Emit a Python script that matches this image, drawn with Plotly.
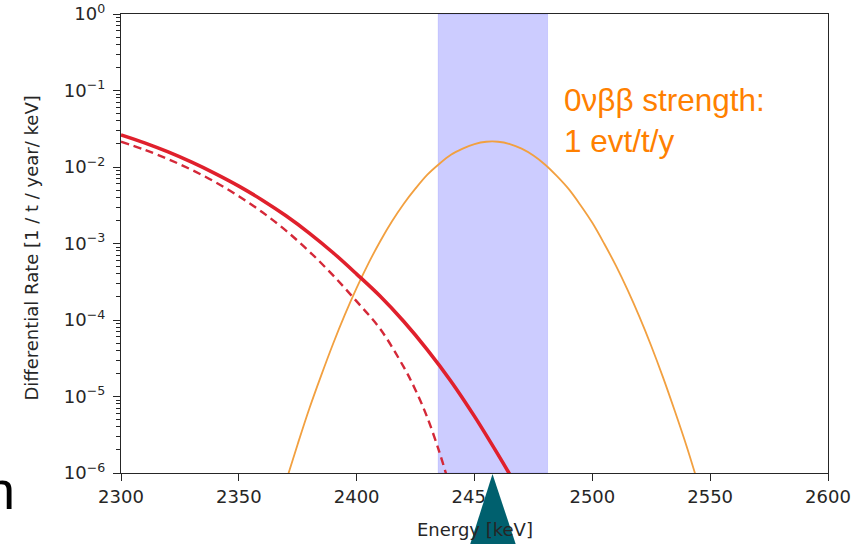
import plotly.graph_objects as go

# ---------------- data ----------------
# red solid curve: energy [keV] and log10(rate)
red_solid_E = [2300, 2310, 2320, 2330, 2340, 2350, 2360, 2370, 2380, 2390,
               2400, 2410, 2420, 2430, 2440, 2450, 2460, 2465]
red_solid_log = [-1.58, -1.684, -1.803, -1.937, -2.086, -2.250, -2.434, -2.638, -2.867, -3.121,
                 -3.400, -3.69, -4.02, -4.39, -4.80, -5.26, -5.76, -6.02]

# red dashed curve
red_dash_E = [2300, 2310, 2320, 2330, 2340, 2350, 2360, 2370, 2380, 2390,
              2400, 2410, 2420, 2425, 2430, 2435, 2438]
red_dash_log = [-1.67, -1.775, -1.897, -2.037, -2.197, -2.382, -2.592, -2.832, -3.107, -3.417,
                -3.757, -4.117, -4.617, -4.917, -5.277, -5.717, -6.017]

# orange 0vbb peak
orange_E = [2370, 2375, 2380, 2385, 2390, 2395, 2400, 2405, 2410, 2415, 2420, 2425,
            2430, 2435, 2440, 2445, 2450, 2455, 2460, 2465, 2470, 2475, 2480, 2485,
            2490, 2495, 2500, 2505, 2510, 2515, 2520, 2525, 2530, 2535, 2540, 2545]
orange_log = [-6.11, -5.62, -5.15, -4.72, -4.31, -3.93, -3.58, -3.26, -2.97, -2.71, -2.48, -2.28,
              -2.10, -1.96, -1.84, -1.76, -1.70, -1.67, -1.67, -1.70, -1.76, -1.85, -1.97, -2.12,
              -2.29, -2.50, -2.73, -3.00, -3.29, -3.61, -3.96, -4.34, -4.75, -5.19, -5.65, -6.15]

# ROI band
band_E = [2434.6, 2481.0]

x_ticks = [2300, 2350, 2400, 2450, 2500, 2550, 2600]
y_exponents = [0, -1, -2, -3, -4, -5, -6]

annotation_text = "0νββ strength:<br>1 evt/t/y"
x_title = "Energy [keV]"
y_title = "Differential Rate [1 / t / year/ keV]"

# ---------------- figure ----------------
def to_lin(vals):
    return [10 ** v for v in vals]

y_tickvals = [10.0 ** e for e in y_exponents]
y_ticktext = [f"10<sup>{'−' if e < 0 else ''}{abs(e)}</sup>" for e in y_exponents]
y_minor = [m * 10.0 ** e for e in range(-6, 0) for m in range(2, 10)]

fig = go.Figure()

fig.add_vrect(x0=band_E[0], x1=band_E[1], fillcolor="rgba(0,0,255,0.2)",
              line=dict(color="rgba(0,0,255,0.12)", width=1), layer="below")

fig.add_trace(go.Scatter(x=orange_E, y=to_lin(orange_log), mode="lines",
                         line=dict(color="#f2a040", width=1.8, shape="spline"),
                         showlegend=False))
fig.add_trace(go.Scatter(x=red_dash_E, y=to_lin(red_dash_log), mode="lines",
                         line=dict(color="#d42838", width=2.4, dash="8px,5px", shape="spline"),
                         showlegend=False))
fig.add_trace(go.Scatter(x=red_solid_E, y=to_lin(red_solid_log), mode="lines",
                         line=dict(color="#e0202c", width=3.6, shape="spline"),
                         showlegend=False))

tick_font = dict(family="DejaVu Sans", size=18, color="#262626")

fig.update_xaxes(range=[2300, 2600], tickvals=x_ticks, ticks="outside", ticklen=7,
                 tickwidth=1.2, tickcolor="#262626", showline=True, linecolor="#262626",
                 linewidth=1.3, mirror=True, showgrid=False, zeroline=False,
                 tickfont=tick_font, automargin=False)
fig.update_yaxes(type="log", range=[-6, 0], tickmode="array", tickvals=y_tickvals,
                 ticktext=y_ticktext,
                 ticks="outside", ticklen=7, tickwidth=1.2, tickcolor="#262626",
                 minor=dict(ticks="outside", ticklen=3.5, tickwidth=1, tickcolor="#262626",
                            tickmode="array", tickvals=y_minor, showgrid=False),
                 showline=True, linecolor="#262626", linewidth=1.3, mirror=True,
                 showgrid=False, zeroline=False, tickfont=tick_font, ticklabelstandoff=4,
                 automargin=False)

W, H = 855, 544
L, R, T, B = 121, 27, 14, 71
pw, ph = W - L - R, H - T - B

def px(xp):
    return (xp - L) / pw

def py(yp):
    return (H - B - yp) / ph

annotations = [
    dict(text=annotation_text, xref="paper", yref="paper", x=px(562), y=py(80),
         xanchor="left", yanchor="top", align="left", showarrow=False,
         font=dict(family="Liberation Sans", size=31.5, color="#ff8000")),
    dict(text=x_title, xref="paper", yref="paper", x=0.5, y=py(517),
         xanchor="center", yanchor="top", showarrow=False,
         font=dict(family="DejaVu Sans", size=18, color="#262626")),
    dict(text=y_title, xref="paper", yref="paper", x=px(19), y=0.49, textangle=-90,
         xanchor="left", yanchor="middle", showarrow=False,
         font=dict(family="DejaVu Sans", size=18, color="#262626")),
    dict(text="n", xref="paper", yref="paper", x=px(17), y=py(522),
         xanchor="right", yanchor="bottom", showarrow=False,
         font=dict(family="Liberation Sans", size=54, color="black")),
]

shapes = [
    dict(type="path", xref="paper", yref="paper",
         path=f"M {px(492.5)} {py(474)} L {px(469)} {py(548)} L {px(517)} {py(548)} Z",
         fillcolor="#00606e", line=dict(color="#00606e", width=0), layer="above"),
]

fig.update_layout(width=W, height=H, margin=dict(l=L, r=R, t=T, b=B),
                  paper_bgcolor="white", plot_bgcolor="white",
                  annotations=annotations, showlegend=False)
for s in shapes:
    fig.add_shape(**s)

fig.write_html("out.html")
